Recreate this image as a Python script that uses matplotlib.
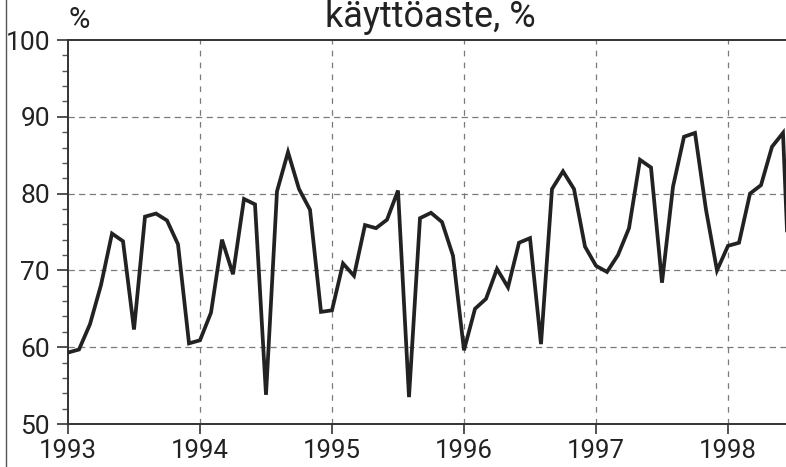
import matplotlib.pyplot as plt
import numpy as np
from matplotlib.lines import Line2D
from matplotlib.ticker import MultipleLocator

plt.rcParams["font.family"] = ["Roboto", "DejaVu Sans"]

# monthly utilisation rate, Jan 1993 .. Jul 1998
values_1993 = [59.3, 59.7, 63.0, 68.1, 74.8, 73.8, 62.3, 77.0, 77.4, 76.5, 73.4, 60.5]
values_1994 = [60.9, 64.5, 74.0, 69.5, 79.3, 78.6, 53.8, 80.3, 85.4, 80.6, 77.9, 64.6]
values_1995 = [64.8, 70.9, 69.3, 75.9, 75.5, 76.6, 80.4, 53.5, 76.8, 77.5, 76.3, 71.9]
values_1996 = [59.6, 65.0, 66.3, 70.2, 67.8, 73.6, 74.2, 60.4, 80.6, 82.9, 80.6, 73.1]
values_1997 = [70.6, 69.8, 72.0, 75.5, 84.4, 83.4, 68.4, 80.9, 87.4, 87.9, 77.9, 70.0]
values_1998 = [73.2, 73.6, 80.0, 81.1, 86.1, 87.9, 53.0]

years = [1993, 1994, 1995, 1996, 1997, 1998]
y_ticks = [50, 60, 70, 80, 90, 100]
title = "käyttöaste, %"

values = values_1993 + values_1994 + values_1995 + values_1996 + values_1997 + values_1998
months = 1993 + np.arange(len(values)) / 12

fig = plt.figure(figsize=(7.86, 4.67), dpi=100)
ax = fig.add_axes([68 / 786, 1 - 424 / 467, 1 - 68 / 786, (424 - 40) / 467])

ax.plot(months, values, color="#222222", lw=2.7, solid_joinstyle="miter", zorder=3)

ax.set_xlim(1993, 1993 + (786 - 68) / 132)
ax.set_ylim(50, 100)
ax.set_xticks(years)
ax.set_xticklabels([str(y) for y in years])
ax.set_yticks(y_ticks)
ax.yaxis.set_minor_locator(MultipleLocator(2))

for v in y_ticks[1:-1]:
    ax.axhline(v, color="#7a7a7a", lw=0.9, dashes=(5, 3.5), zorder=1)
for yr in years[1:]:
    ax.axvline(yr, color="#7a7a7a", lw=0.9, dashes=(4.5, 5), zorder=1)

for side in ["left", "top", "bottom"]:
    ax.spines[side].set_color("#333333")
    ax.spines[side].set_linewidth(1.4)
ax.spines["right"].set_visible(False)

ax.tick_params(axis="both", which="major", direction="out", length=8, width=1.2,
               color="#333333", labelsize=19, labelcolor="#222222", pad=5)
ax.tick_params(axis="x", which="major", length=7, pad=3.5, labelsize=18.5)
ax.tick_params(axis="y", which="minor", direction="out", length=4, width=1.0,
               color="#555555")

fig.text(79 / 786, 1 - 28 / 467, "%", fontsize=21, color="#222222",
         ha="center", va="baseline")
fig.text(430 / 786, 1 - 27 / 467, title, fontsize=26, color="#222222",
         ha="center", va="baseline")

# left edge of the printed frame
fig.add_artist(Line2D([5.5 / 786, 5.5 / 786], [0, 1], color="#555555", lw=1.0,
                      transform=fig.transFigure))

fig.savefig("out.png", dpi=100)
